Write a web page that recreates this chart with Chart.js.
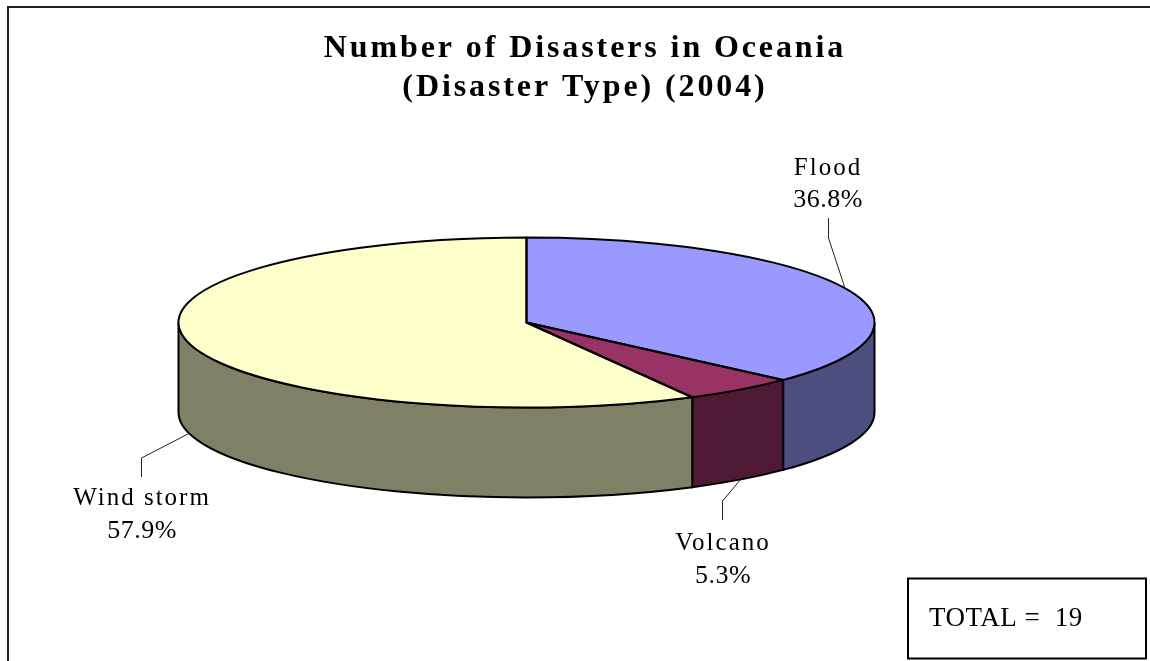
<!DOCTYPE html>
<html>
<head>
<meta charset="utf-8">
<title>Number of Disasters in Oceania</title>
<script src="https://cdn.jsdelivr.net/npm/chart.js@4"></script>
<style>
html, body { margin: 0; padding: 0; background: #fff; overflow: hidden; }
#wrap { width: 1150px; height: 661px; position: relative; }
</style>
</head>
<body>
<div id="wrap"><canvas id="graficoDesastres"></canvas></div>
<script>
// Datos
const categories = ['Flood', 'Volcano', 'Wind storm'];
const shares = [36.8, 5.3, 57.9];
const totalCount = 19;
const titleLines = ['Number of Disasters in Oceania', '(Disaster Type) (2004)'];

const topColors = ['#9999ff', '#993366', '#ffffcc'];
const sideColors = ['#4d4d80', '#4d1933', '#808066'];

// Tilted disc: ellipse on screen plus the height of the rim
const disc = { x: 526.5, y: 322.5, rx: 348, ry: 85, depth: 90 };

// Label centre, and where each leader line bends and stops
const labelSpots = [
    { x: 828, lines: [175, 207], elbow: [828.5, 238], end: [828.5, 218], onRim: false },
    { x: 723, lines: [550, 583], elbow: [722.5, 501], end: [722.5, 520], onRim: true },
    { x: 142, lines: [505, 538], elbow: [141.5, 458], end: [141.5, 477], onRim: true }
];

const serifFamily = '"Liberation Serif", serif';

// Squashes the library's arcs into an ellipse and adds the rim and outlines
const pie3d = {
    id: 'pie3d',
    beforeDraw(chart) {
        chart.ctx.letterSpacing = '2.9px';
    },
    beforeDatasetsDraw(chart) {
        const ctx = chart.ctx;
        ctx.save();
        ctx.letterSpacing = '0px';
        chart.getDatasetMeta(0).data.forEach((arc, i) => {
            // Only the front half of the rim can be seen
            const a = Math.max(arc.startAngle, 0);
            const b = Math.min(arc.endAngle, Math.PI);
            if (b <= a) return;
            ctx.beginPath();
            ctx.ellipse(disc.x, disc.y, disc.rx, disc.ry, 0, a, b);
            ctx.ellipse(disc.x, disc.y + disc.depth, disc.rx, disc.ry, 0, b, a, true);
            ctx.closePath();
            ctx.fillStyle = sideColors[i];
            ctx.fill();
            ctx.lineWidth = 2;
            ctx.strokeStyle = '#000';
            ctx.stroke();
        });
        ctx.restore();
    },
    beforeDatasetDraw(chart) {
        const ctx = chart.ctx;
        const arc = chart.getDatasetMeta(0).data[0];
        ctx.save();
        ctx.translate(disc.x, disc.y);
        ctx.scale(disc.rx / arc.outerRadius, disc.ry / arc.outerRadius);
        ctx.translate(-arc.x, -arc.y);
    },
    afterDatasetDraw(chart) {
        chart.ctx.restore();
    },
    afterDatasetsDraw(chart) {
        const ctx = chart.ctx;
        const arcs = chart.getDatasetMeta(0).data;
        ctx.save();
        ctx.strokeStyle = '#000';
        ctx.lineWidth = 2;
        ctx.lineJoin = 'round';
        arcs.forEach(arc => {
            ctx.beginPath();
            ctx.moveTo(disc.x, disc.y);
            ctx.ellipse(disc.x, disc.y, disc.rx, disc.ry, 0, arc.startAngle, arc.endAngle);
            ctx.closePath();
            ctx.stroke();
        });

        // Leader lines start at the middle of each slice's edge
        ctx.lineWidth = 1;
        ctx.strokeStyle = '#222';
        arcs.forEach((arc, i) => {
            const spot = labelSpots[i];
            const mid = (arc.startAngle + arc.endAngle) / 2;
            const startX = disc.x + disc.rx * Math.cos(mid);
            const startY = disc.y + disc.ry * Math.sin(mid) + (spot.onRim ? disc.depth : 0);
            ctx.beginPath();
            ctx.moveTo(startX, startY);
            ctx.lineTo(spot.elbow[0], spot.elbow[1]);
            ctx.lineTo(spot.end[0], spot.end[1]);
            ctx.stroke();
        });

        // Slice labels
        ctx.fillStyle = '#000';
        ctx.textAlign = 'center';
        ctx.textBaseline = 'alphabetic';
        categories.forEach((name, i) => {
            const spot = labelSpots[i];
            ctx.font = '25px ' + serifFamily;
            ctx.letterSpacing = '2px';
            ctx.fillText(name, spot.x, spot.lines[0]);
            ctx.font = '26px ' + serifFamily;
            ctx.letterSpacing = '0.5px';
            ctx.fillText(shares[i].toFixed(1) + '%', spot.x, spot.lines[1]);
        });
        ctx.restore();
    },
    afterDraw(chart) {
        const ctx = chart.ctx;
        ctx.save();

        // Marco
        ctx.strokeStyle = '#222';
        ctx.lineWidth = 2;
        ctx.beginPath();
        ctx.moveTo(8, 661);
        ctx.lineTo(8, 7);
        ctx.lineTo(1150, 7);
        ctx.stroke();

        // Caja del total
        ctx.strokeStyle = '#000';
        ctx.lineWidth = 2;
        ctx.strokeRect(908, 578.5, 238, 80);
        ctx.font = '27px ' + serifFamily;
        ctx.letterSpacing = '0.5px';
        ctx.fillStyle = '#000';
        ctx.textAlign = 'left';
        ctx.fillText('TOTAL =  ' + totalCount, 929, 626);
        ctx.restore();
    }
};

const ctxDesastres = document.getElementById('graficoDesastres').getContext('2d');
new Chart(ctxDesastres, {
    type: 'pie',
    data: {
        labels: categories,
        datasets: [{
            data: shares,
            backgroundColor: topColors,
            borderWidth: 0,
            clip: false
        }]
    },
    options: {
        responsive: true,
        maintainAspectRatio: false,
        animation: false,
        layout: { padding: { left: 20 } },
        plugins: {
            legend: { display: false },
            tooltip: { enabled: false },
            title: {
                display: true,
                text: titleLines,
                color: '#000',
                font: { family: serifFamily, size: 32, weight: 'bold', lineHeight: 1.22 },
                padding: { top: 29, bottom: 10 }
            }
        }
    },
    plugins: [pie3d]
});
</script>
</body>
</html>
